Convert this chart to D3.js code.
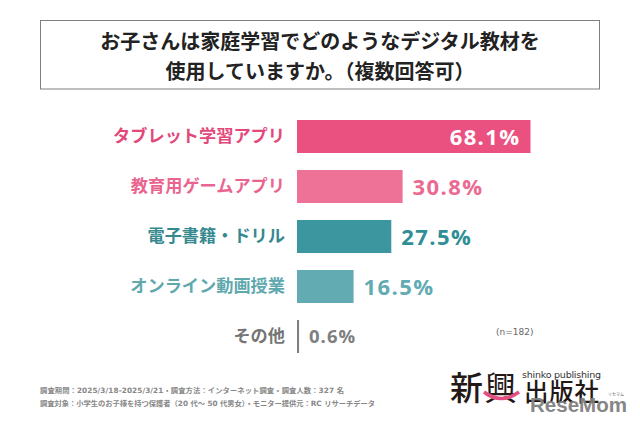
<!DOCTYPE html>
<html lang="ja"><head><meta charset="utf-8">
<script src="https://cdn.jsdelivr.net/npm/d3@7"></script>
<style>html,body{margin:0;padding:0;background:#fff}svg{display:block}text{font-family:"Noto Sans CJK JP","Noto Sans",sans-serif}</style>
</head><body><svg id="c" width="640" height="426"></svg>
<script>
const categories=["タブレット学習アプリ","教育用ゲームアプリ","電子書籍・ドリル","オンライン動画授業","その他"];
const values=[68.1,30.8,27.5,16.5,0.6];
const barColors=["#ea5080","#ee7298","#3c96a0","#62abb3","#7f7f7f"];
const labelColors=["#e2497a","#e9658f","#36898f","#5ea8ae","#757575"];
const valueColors=["#ffffff","#ea6a92","#2f8e96","#62abb3","#7f7f7f"];
const titleLines=["お子さんは家庭学習でどのようなデジタル教材を","使用していますか。（複数回答可）"];
const noteLines=["調査期間：2025/3/18-2025/3/21・調査方法：インターネット調査・調査人数：327 名","調査対象：小学生のお子様を持つ保護者（20 代～ 50 代男女）・モニター提供元：RC リサーチデータ"];

const svg=d3.select("#c");
svg.append("rect").attr("x",40.5).attr("y",20.5).attr("width",559).attr("height",68.5).attr("fill","#fff").attr("stroke","#7f7f7f").attr("stroke-width",1);
svg.selectAll(".t").data(titleLines).join("text").attr("class","t")
 .attr("x",320).attr("y",(d,i)=>48.5+i*30).attr("text-anchor","middle")
 .attr("font-size",20).attr("font-weight",700).attr("fill","#222").text(d=>d);

const x=d3.scaleLinear().domain([0,68.1]).range([297,530.5]);
const y=d3.scaleBand().domain(categories).range([120,353]).paddingInner(0.34).paddingOuter(0);
const color=d3.scaleOrdinal(categories,barColors);
const lab=d3.scaleOrdinal(categories,labelColors);
const valc=d3.scaleOrdinal(categories,valueColors);
const rows=categories.map((c,i)=>({c,v:values[i]}));

svg.selectAll(".b").data(rows).join("rect").attr("class","b")
 .attr("x",x(0)).attr("y",d=>y(d.c)).attr("width",d=>x(d.v)-x(0)).attr("height",y.bandwidth()).attr("fill",d=>color(d.c));

const ax=svg.append("g").attr("transform","translate(297,0)").call(d3.axisLeft(y).tickSize(0).tickPadding(12));
ax.select(".domain").remove();
ax.selectAll("text").attr("font-size",17.2).attr("font-weight",700).style("font-family",'"Noto Sans CJK JP",sans-serif').attr("fill",d=>lab(d));

svg.selectAll(".v").data(rows).join("text").attr("class","v")
 .attr("x",d=>d.v>60?x(d.v)-10:x(d.v)+10)
 .attr("y",d=>y(d.c)+y.bandwidth()/2+(d.v<1?6.5:8))
 .attr("text-anchor",d=>d.v>60?"end":"start")
 .attr("font-size",d=>d.v<1?18.5:22).attr("letter-spacing",d=>d.v<1?1:1.4).attr("font-weight",700).attr("fill",d=>valc(d.c))
 .style("font-family",'"Open Sans",sans-serif').text(d=>d.v.toFixed(1)+"%");

svg.append("text").attr("x",496).attr("y",335).attr("font-size",9).attr("fill","#666").style("font-family",'"DejaVu Sans",sans-serif').text("(n=182)");

const noteSpan=d3.scaleOrdinal(noteLines,[304,335]);
svg.selectAll(".n").data(noteLines).join("text").attr("class","n")
 .attr("x",40).attr("y",(d,i)=>393+i*13).attr("font-size",7.3).attr("font-weight",700).attr("fill","#888")
 .attr("textLength",d=>noteSpan(d)).attr("lengthAdjust","spacing")
 .style("font-family",'"DejaVu Sans","Noto Sans CJK JP",sans-serif').text(d=>d);

// logo
svg.append("text").attr("x",450).attr("y",400).attr("font-size",33).attr("font-weight",500).attr("fill","#231815").text("新");
svg.append("text").attr("x",484).attr("y",400).attr("font-size",33).attr("font-weight",400).attr("fill","#231815").text("興");
svg.append("path").attr("d","M484 392 Q501 405 519 392").attr("fill","none").attr("stroke","#e24f80").attr("stroke-width",3.5);
svg.append("text").attr("x",524).attr("y",401).attr("font-size",24.5).attr("font-weight",500).attr("fill","#231815").attr("textLength",75).text("出版社");
svg.append("text").attr("x",522).attr("y",378).attr("font-size",9.5).attr("textLength",79).attr("fill","#333").style("font-family",'"DejaVu Sans",sans-serif').text("shinko publishing");
svg.append("text").attr("x",530).attr("y",412).attr("font-size",20).attr("font-weight",700).attr("fill","#808080").attr("opacity",0.95).attr("textLength",97).attr("lengthAdjust","spacingAndGlyphs").style("font-family",'"Liberation Sans",sans-serif').text("ReseMom");
svg.append("text").attr("x",608).attr("y",396).attr("font-size",4).attr("fill","#666").text("リセマム");
</script></body></html>
